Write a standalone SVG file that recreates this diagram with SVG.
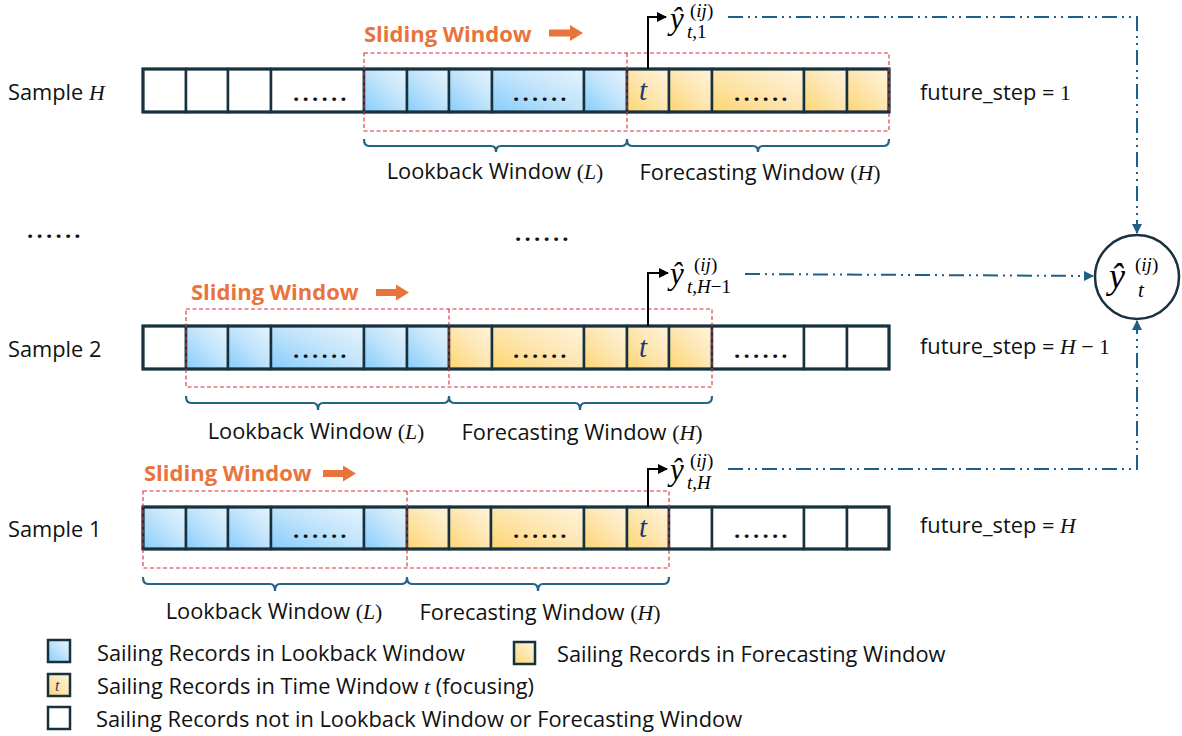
<svg xmlns="http://www.w3.org/2000/svg" width="1182" height="736" viewBox="0 0 1182 736">
  <defs>
    <linearGradient id="gBlue" x1="0" y1="1" x2="1" y2="0">
      <stop offset="0" stop-color="#86cdfb"/>
      <stop offset="0.55" stop-color="#c4e5fb"/>
      <stop offset="1" stop-color="#e6f4fd"/>
    </linearGradient>
    <linearGradient id="gYellow" x1="0" y1="1" x2="1" y2="0">
      <stop offset="0" stop-color="#fdd670"/>
      <stop offset="0.55" stop-color="#fee7b6"/>
      <stop offset="1" stop-color="#fff4dc"/>
    </linearGradient>
    <marker id="arrBlack" viewBox="0 0 10 10" refX="9" refY="5" markerWidth="5" markerHeight="5" orient="auto" markerUnits="strokeWidth">
      <path d="M0,0 L10,5 L0,10 Z" fill="#000"/>
    </marker>
    <marker id="arrBlue" viewBox="0 0 10 10" refX="9" refY="5" markerWidth="5" markerHeight="5" orient="auto" markerUnits="strokeWidth">
      <path d="M0,0 L10,5 L0,10 Z" fill="#1f5f85"/>
    </marker>
    <style>
      .lbl { font-family: "Open Sans", "Noto Sans", sans-serif; font-size: 21.8px; fill: #111; }
      .slide { font-family: "Open Sans", "Noto Sans", sans-serif; font-size: 22px; font-weight: bold; fill: #e8743b; }
      .m { font-family: "Liberation Serif", "DejaVu Serif", serif; font-style: normal; }
      .i { font-family: "Liberation Serif", "DejaVu Serif", serif; font-style: italic; }
      .dots { font-family: "Open Sans", sans-serif; font-size: 22px; font-weight: bold; fill: #111; letter-spacing: 3.2px; }
      .cell { stroke: #17313f; stroke-width: 2.5; }
      .w { fill: #fff; }
      .b { fill: url(#gBlue); }
      .y { fill: url(#gYellow); }
      .rowframe { fill: none; stroke: #17313f; stroke-width: 3; }
      .win { fill: none; stroke: #d4303a; stroke-width: 1.1; stroke-dasharray: 4 2.5; }
      .brace { fill: none; stroke: #236489; stroke-width: 2.2; }
      .tcell { font-family: "Liberation Serif", "DejaVu Serif", serif; font-style: italic; font-size: 29px; fill: #1c3a78; }
      .sarrow { fill: #e8743b; }
      .out { fill: none; stroke: #000; stroke-width: 2; marker-end: url(#arrBlack); }
      .flow { fill: none; stroke: #1f5f85; stroke-width: 2; stroke-dasharray: 15 5 2 5 2 5; marker-end: url(#arrBlue); }
      .hat { font-size: 31px; }
      .sup { font-size: 19px; }
    </style>
  </defs>

  <!-- Sample H row -->
  <g id="sampleH">
    <text class="lbl" x="8" y="100">Sample <tspan class="i">H</tspan></text>
    <text class="slide" x="364" y="42">Sliding Window</text>
    <path class="sarrow" d="M549,29.5 H570 V25 L583,33 L570,41 V36.5 H549 Z"/>
    <rect class="cell w" x="143" y="69" width="43" height="43"/>
    <rect class="cell w" x="186" y="69" width="42" height="43"/>
    <rect class="cell w" x="228" y="69" width="43" height="43"/>
    <rect class="cell w" x="271" y="69" width="93" height="43"/>
    <rect class="cell b" x="364" y="69" width="43" height="43"/>
    <rect class="cell b" x="407" y="69" width="42" height="43"/>
    <rect class="cell b" x="449" y="69" width="43" height="43"/>
    <rect class="cell b" x="492" y="69" width="92" height="43"/>
    <rect class="cell b" x="584" y="69" width="43" height="43"/>
    <rect class="cell y" x="627" y="69" width="42" height="43"/>
    <rect class="cell y" x="669" y="69" width="43" height="43"/>
    <rect class="cell y" x="712" y="69" width="92" height="43"/>
    <rect class="cell y" x="804" y="69" width="43" height="43"/>
    <rect class="cell y" x="847" y="69" width="42" height="43"/>
    <rect class="rowframe" x="143" y="69" width="746" height="43"/>
    <text class="dots" x="293" y="101">......</text>
    <text class="dots" x="513" y="101">......</text>
    <text class="dots" x="734" y="101">......</text>
    <text class="tcell" x="639" y="100">t</text>
    <rect class="win" x="364" y="53" width="525" height="78"/>
    <line class="win" x1="627" y1="53" x2="627" y2="131"/>
    <path class="brace" d="M364,139 Q364,146 369,146 H491 Q496,146 496,152 Q496,146 501,146 H622 Q627,146 627,139 Q627,146 632,146 H753 Q758,146 758,152 Q758,146 763,146 H884 Q889,146 889,139"/>
    <text class="lbl" x="495" y="179" text-anchor="middle">Lookback Window <tspan class="m">(</tspan><tspan class="i">L</tspan><tspan class="m">)</tspan></text>
    <text class="lbl" x="760" y="180" text-anchor="middle">Forecasting Window <tspan class="m">(</tspan><tspan class="i">H</tspan><tspan class="m">)</tspan></text>
    <text class="lbl" x="920" y="100">future_step = <tspan class="m">1</tspan></text>
    <text class="i hat" x="670" y="29">ŷ</text>
    <text class="m sup" x="690" y="17">(<tspan class="i">ij</tspan>)</text>
    <text class="sup" x="687" y="38"><tspan class="i">t</tspan><tspan class="m">,1</tspan></text>
  </g>

  <!-- row ellipses -->
  <g id="gaps">
    <text class="dots" x="27" y="238">......</text>
    <text class="dots" x="515" y="241">......</text>
  </g>

  <!-- Sample 2 row -->
  <g id="sample2">
    <text class="lbl" x="8" y="357">Sample 2</text>
    <text class="slide" x="191" y="300">Sliding Window</text>
    <path class="sarrow" d="M376,289 H396 V284.5 L409,292.5 L396,300.5 V296 H376 Z"/>
    <rect class="cell w" x="143" y="326" width="43" height="43"/>
    <rect class="cell b" x="186" y="326" width="42" height="43"/>
    <rect class="cell b" x="228" y="326" width="43" height="43"/>
    <rect class="cell b" x="271" y="326" width="93" height="43"/>
    <rect class="cell b" x="364" y="326" width="43" height="43"/>
    <rect class="cell b" x="407" y="326" width="42" height="43"/>
    <rect class="cell y" x="449" y="326" width="43" height="43"/>
    <rect class="cell y" x="492" y="326" width="92" height="43"/>
    <rect class="cell y" x="584" y="326" width="43" height="43"/>
    <rect class="cell y" x="627" y="326" width="42" height="43"/>
    <rect class="cell y" x="669" y="326" width="43" height="43"/>
    <rect class="cell w" x="712" y="326" width="92" height="43"/>
    <rect class="cell w" x="804" y="326" width="43" height="43"/>
    <rect class="cell w" x="847" y="326" width="42" height="43"/>
    <rect class="rowframe" x="143" y="326" width="746" height="43"/>
    <text class="dots" x="293" y="358">......</text>
    <text class="dots" x="513" y="358">......</text>
    <text class="dots" x="734" y="358">......</text>
    <text class="tcell" x="639" y="357">t</text>
    <rect class="win" x="186" y="309" width="526" height="78"/>
    <line class="win" x1="449" y1="309" x2="449" y2="387"/>
    <path class="brace" d="M186,396 Q186,403 191,403 H313 Q318,403 318,410 Q318,403 323,403 H444 Q449,403 449,396 Q449,403 454,403 H575 Q580,403 580,410 Q580,403 585,403 H707 Q712,403 712,396"/>
    <text class="lbl" x="316" y="439" text-anchor="middle">Lookback Window <tspan class="m">(</tspan><tspan class="i">L</tspan><tspan class="m">)</tspan></text>
    <text class="lbl" x="582" y="440" text-anchor="middle">Forecasting Window <tspan class="m">(</tspan><tspan class="i">H</tspan><tspan class="m">)</tspan></text>
    <text class="lbl" x="920" y="354">future_step = <tspan class="i">H</tspan><tspan class="m"> − 1</tspan></text>
    <text class="i hat" x="670" y="284">ŷ</text>
    <text class="m sup" x="694" y="271">(<tspan class="i">ij</tspan>)</text>
    <text class="sup" x="687" y="293"><tspan class="i">t</tspan><tspan class="m">,</tspan><tspan class="i">H</tspan><tspan class="m">−1</tspan></text>
  </g>

  <!-- Sample 1 row -->
  <g id="sample1">
    <text class="lbl" x="8" y="537">Sample 1</text>
    <text class="slide" x="144" y="481">Sliding Window</text>
    <path class="sarrow" d="M323,470 H343 V465.5 L356,473.5 L343,481.5 V477 H323 Z"/>
    <rect class="cell b" x="143" y="507" width="43" height="42"/>
    <rect class="cell b" x="186" y="507" width="42" height="42"/>
    <rect class="cell b" x="228" y="507" width="43" height="42"/>
    <rect class="cell b" x="271" y="507" width="93" height="42"/>
    <rect class="cell b" x="364" y="507" width="43" height="42"/>
    <rect class="cell y" x="407" y="507" width="42" height="42"/>
    <rect class="cell y" x="449" y="507" width="42" height="42"/>
    <rect class="cell y" x="491" y="507" width="93" height="42"/>
    <rect class="cell y" x="584" y="507" width="43" height="42"/>
    <rect class="cell y" x="627" y="507" width="42" height="42"/>
    <rect class="cell w" x="669" y="507" width="43" height="42"/>
    <rect class="cell w" x="712" y="507" width="92" height="42"/>
    <rect class="cell w" x="804" y="507" width="43" height="42"/>
    <rect class="cell w" x="847" y="507" width="42" height="42"/>
    <rect class="rowframe" x="143" y="507" width="746" height="42"/>
    <text class="dots" x="293" y="538">......</text>
    <text class="dots" x="513" y="538">......</text>
    <text class="dots" x="734" y="538">......</text>
    <text class="tcell" x="639" y="537">t</text>
    <rect class="win" x="143" y="491" width="526" height="77"/>
    <line class="win" x1="407" y1="491" x2="407" y2="568"/>
    <path class="brace" d="M143,577 Q143,584 148,584 H270 Q275,584 275,591 Q275,584 280,584 H402 Q407,584 407,577 Q407,584 412,584 H533 Q538,584 538,591 Q538,584 543,584 H664 Q669,584 669,577"/>
    <text class="lbl" x="274" y="619" text-anchor="middle">Lookback Window <tspan class="m">(</tspan><tspan class="i">L</tspan><tspan class="m">)</tspan></text>
    <text class="lbl" x="540" y="620" text-anchor="middle">Forecasting Window <tspan class="m">(</tspan><tspan class="i">H</tspan><tspan class="m">)</tspan></text>
    <text class="lbl" x="920" y="533">future_step = <tspan class="i">H</tspan></text>
    <text class="i hat" x="670" y="480">ŷ</text>
    <text class="m sup" x="690" y="467">(<tspan class="i">ij</tspan>)</text>
    <text class="sup" x="687" y="489"><tspan class="i">t</tspan><tspan class="m">,</tspan><tspan class="i">H</tspan></text>
  </g>

  <!-- aggregated output -->
  <g id="aggregate">
    <circle cx="1137" cy="277" r="42" fill="#fff" stroke="#17313f" stroke-width="2.5"/>
    <text class="i" font-size="36" x="1109" y="288">ŷ</text>
    <text class="m" font-size="19" x="1135" y="271">(<tspan class="i">ij</tspan>)</text>
    <text class="i" font-size="21" x="1138" y="297">t</text>
  </g>

  <!-- connectors -->
  <g id="connectors">
    <polyline class="out" points="648,69 648,17 666,17"/>
    <polyline class="out" points="648,326 648,273 668,273"/>
    <polyline class="out" points="648,507 648,469 667,469"/>
    <polyline class="flow" points="728,17 1137,17 1137,233"/>
    <polyline class="flow" points="745,274 1093,276"/>
    <polyline class="flow" points="728,469 1137,469 1137,321"/>
  </g>

  <!-- legend -->
  <g id="legend">
    <rect class="cell b" x="48" y="640" width="22" height="22"/>
    <text class="lbl" x="97" y="661">Sailing Records in Lookback Window</text>
    <rect class="cell y" x="514" y="642" width="21" height="22"/>
    <text class="lbl" x="557" y="662">Sailing Records in Forecasting Window</text>
    <rect class="cell y" x="48" y="674" width="22" height="22"/>
    <text class="i" font-size="16" fill="#1c3a78" x="55" y="691">t</text>
    <text class="lbl" x="97" y="694">Sailing Records in Time Window <tspan class="i">t</tspan> (focusing)</text>
    <rect class="cell w" x="48" y="707" width="22" height="22"/>
    <text class="lbl" x="96" y="727">Sailing Records not in Lookback Window or Forecasting Window</text>
  </g>
</svg>
